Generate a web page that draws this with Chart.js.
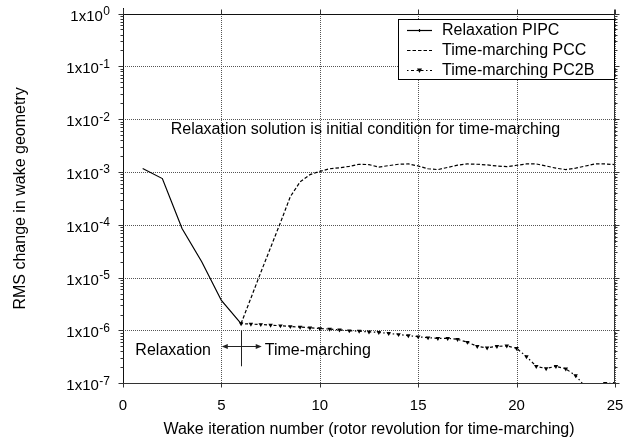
<!DOCTYPE html>
<html>
<head>
<meta charset="utf-8">
<script src="https://cdn.jsdelivr.net/npm/chart.js@4.4.0/dist/chart.umd.min.js"></script>
<style>
  html, body { margin: 0; padding: 0; background: #fff; }
  #wrap { width: 634px; height: 440px; position: relative; }
</style>
</head>
<body>
<div id="wrap"><canvas id="rmsChart"></canvas></div>
<script>
// axis ticks
const xTicks = [0, 5, 10, 15, 20, 25];
const yDecades = [0, -1, -2, -3, -4, -5, -6, -7];

// relaxation (free-wake) iterations
const pipcX = [1, 2, 3, 4, 5, 6];
const pipcY = [1.16e-3, 7.5e-4, 8.5e-5, 2.0e-5, 3.7e-6, 1.35e-6];

// time-marching, predictor-corrector central
const pccX = [6, 7, 8, 8.5, 9, 9.5,
  10, 10.5, 11, 11.5, 12, 12.5, 13, 13.5, 14, 14.5, 15, 15.5, 16, 16.5, 17, 17.5,
  18, 18.5, 19, 19.5, 20, 20.5, 21, 21.5, 22, 22.5, 23, 23.5, 24, 24.5, 25];
const pccY = [1.35e-6, 1.25e-5, 1.1e-4, 3.4e-4, 6.5e-4, 8.9e-4,
  1.03e-3, 1.15e-3, 1.2e-3, 1.28e-3, 1.4e-3, 1.38e-3, 1.24e-3, 1.32e-3, 1.4e-3, 1.42e-3,
  1.3e-3, 1.15e-3, 1.11e-3, 1.22e-3, 1.35e-3, 1.42e-3, 1.4e-3, 1.36e-3, 1.3e-3, 1.26e-3,
  1.34e-3, 1.42e-3, 1.42e-3, 1.3e-3, 1.18e-3, 1.11e-3, 1.18e-3, 1.3e-3, 1.42e-3, 1.42e-3, 1.38e-3];

// time-marching, second order backward
const pc2bX = [6, 6.5, 7, 7.5, 8, 8.5, 9, 9.5, 10, 10.5, 11, 11.5, 12, 12.5, 13, 13.5,
  14, 14.5, 15, 15.5, 16, 16.5, 17, 17.5, 18, 18.5, 19, 19.5, 20, 20.5, 21, 21.5,
  22, 22.5, 23, 23.5, 24, 24.5, 25];
const pc2bY = [1.35e-6, 1.32e-6, 1.3e-6, 1.26e-6, 1.23e-6, 1.19e-6, 1.16e-6, 1.12e-6,
  1.09e-6, 1.06e-6, 1.03e-6, 9.9e-7, 9.7e-7, 9.4e-7, 9.2e-7, 8.8e-7, 8.4e-7, 8.0e-7,
  7.6e-7, 7.3e-7, 7.1e-7, 7.1e-7, 6.8e-7, 6.0e-7, 5.0e-7, 4.7e-7, 5.0e-7, 5.1e-7,
  4.6e-7, 3.2e-7, 2.1e-7, 1.9e-7, 2.1e-7, 1.88e-7, 1.4e-7, 8.5e-8, 7e-8, 1.0e-7, 1.0e-7];

const seriesNames = ['Relaxation PIPC', 'Time-marching PCC', 'Time-marching PC2B'];

function toPoints(xs, ys) {
  return xs.map(function (v, i) { return { x: v, y: ys[i] }; });
}

const FONT = "'Liberation Sans', Arial, sans-serif";

// grid, frame, tick labels, titles, notes and legend
const framePlugin = {
  id: 'frame',
  beforeDatasetsDraw(chart) {
    const ctx = chart.ctx;
    const a = chart.chartArea;
    const x = chart.scales.x, y = chart.scales.y;
    const top = Math.round(a.top), bottom = Math.round(a.bottom);
    ctx.save();
    ctx.strokeStyle = '#555';
    ctx.lineWidth = 1;
    ctx.setLineDash([1, 1]);
    xTicks.forEach(function (v) {
      const px = Math.round(x.getPixelForValue(v)) + 0.5;
      ctx.beginPath(); ctx.moveTo(px, top); ctx.lineTo(px, bottom); ctx.stroke();
    });
    yDecades.forEach(function (e) {
      const py = Math.round(y.getPixelForValue(Math.pow(10, e))) + 0.5;
      ctx.beginPath(); ctx.moveTo(Math.round(a.left), py); ctx.lineTo(Math.round(a.right), py); ctx.stroke();
    });
    ctx.restore();
  },
  afterDraw(chart) {
    const ctx = chart.ctx;
    const a = chart.chartArea;
    const x = chart.scales.x, y = chart.scales.y;
    const L = Math.round(a.left) + 0.5, R = Math.round(a.right) - 0.5;
    const T = Math.round(a.top) + 0.5, B = Math.round(a.bottom) + 0.5;
    ctx.save();

    // frame
    ctx.lineWidth = 1;
    ctx.strokeStyle = '#111';
    ctx.beginPath();
    ctx.moveTo(L, 8); ctx.lineTo(L, B);
    ctx.moveTo(L, T); ctx.lineTo(R, T);
    ctx.stroke();
    ctx.strokeStyle = '#333';
    ctx.beginPath();
    ctx.moveTo(R, T - 5); ctx.lineTo(R, B);
    ctx.moveTo(L, B); ctx.lineTo(R + 1, B);
    ctx.stroke();

    // log ticks on left and right
    ctx.beginPath();
    yDecades.forEach(function (e) {
      const py = Math.round(y.getPixelForValue(Math.pow(10, e))) + 0.5;
      ctx.moveTo(L - 5, py); ctx.lineTo(L, py);
      ctx.moveTo(R, py); ctx.lineTo(R + 5, py);
      if (e < 0) {
        for (let m = 2; m <= 9; m++) {
          const pm = Math.round(y.getPixelForValue(m * Math.pow(10, e))) + 0.5;
          ctx.moveTo(L - 3, pm); ctx.lineTo(L, pm);
          ctx.moveTo(R, pm); ctx.lineTo(R + 3, pm);
        }
      }
    });
    xTicks.forEach(function (v) {
      const px = Math.round(x.getPixelForValue(v)) + 0.5;
      ctx.moveTo(px, B); ctx.lineTo(px, B + 4);
      ctx.moveTo(px, T - 5); ctx.lineTo(px, T);
    });
    ctx.stroke();

    // tick labels
    ctx.fillStyle = '#000';
    ctx.textBaseline = 'alphabetic';
    ctx.font = '15px ' + FONT;
    ctx.textAlign = 'center';
    xTicks.forEach(function (v) {
      ctx.fillText(String(v), x.getPixelForValue(v), 410);
    });
    yDecades.forEach(function (e) {
      const py = y.getPixelForValue(Math.pow(10, e));
      const exp = String(e);
      ctx.font = '12px ' + FONT;
      ctx.textAlign = 'right';
      const w = ctx.measureText(exp).width;
      ctx.fillText(exp, 110, py + 1.5);
      ctx.font = '15px ' + FONT;
      ctx.fillText('1x10', 110 - w - 0.5, py + 7);
    });

    // axis titles
    ctx.font = '16px ' + FONT;
    ctx.textAlign = 'center';
    ctx.fillText('Wake iteration number (rotor revolution for time-marching)', (a.left + a.right) / 2, 433.5);
    ctx.save();
    ctx.translate(24.5, (a.top + a.bottom) / 2);
    ctx.rotate(-Math.PI / 2);
    ctx.fillText('RMS change in wake geometry', 0, 0);
    ctx.restore();

    // notes inside the plot
    ctx.fillText('Relaxation solution is initial condition for time-marching',
      x.getPixelForValue(12.32), y.getPixelForValue(5.3e-3));
    ctx.textAlign = 'right';
    ctx.fillText('Relaxation', x.getPixelForValue(4.47), y.getPixelForValue(3.5e-7));
    ctx.textAlign = 'left';
    ctx.fillText('Time-marching', x.getPixelForValue(7.2), y.getPixelForValue(3.5e-7));

    // switch marker: vertical bar at iteration 6 and double arrow
    const sx = Math.round(x.getPixelForValue(6)) + 0.5;
    const ay = Math.round(y.getPixelForValue(5e-7)) + 0.5;
    const ax0 = x.getPixelForValue(5.02), ax1 = x.getPixelForValue(7.05);
    ctx.strokeStyle = '#222';
    ctx.beginPath();
    ctx.moveTo(sx, y.getPixelForValue(1e-6)); ctx.lineTo(sx, y.getPixelForValue(2.1e-7));
    ctx.moveTo(ax0 + 4, ay); ctx.lineTo(ax1 - 4, ay);
    ctx.stroke();
    ctx.fillStyle = '#222';
    ctx.beginPath();
    ctx.moveTo(ax0, ay); ctx.lineTo(ax0 + 6, ay - 2.5); ctx.lineTo(ax0 + 6, ay + 2.5); ctx.closePath();
    ctx.moveTo(ax1, ay); ctx.lineTo(ax1 - 6, ay - 2.5); ctx.lineTo(ax1 - 6, ay + 2.5); ctx.closePath();
    ctx.fill();

    // legend
    ctx.fillStyle = '#fff';
    ctx.strokeStyle = '#000';
    ctx.fillRect(398.5, 19.5, 216, 60);
    ctx.strokeRect(398.5, 19.5, 216, 60);
    chart.data.datasets.forEach(function (ds, i) {
      const ly = 30.5 + i * 20;
      ctx.save();
      ctx.strokeStyle = '#000';
      ctx.lineWidth = ds.borderWidth;
      ctx.setLineDash(ds.borderDash || []);
      ctx.beginPath(); ctx.moveTo(407, ly); ctx.lineTo(432, ly); ctx.stroke();
      ctx.setLineDash([]);
      if (i === 0) {
        ctx.beginPath(); ctx.moveTo(419.5, ly - 1.5); ctx.lineTo(419.5, ly + 1.5); ctx.stroke();
      }
      if (ds.pointRadius > 0) {
        ctx.fillStyle = '#000';
        ctx.beginPath();
        ctx.moveTo(417, ly - 2); ctx.lineTo(422, ly - 2); ctx.lineTo(419.5, ly + 2.5); ctx.closePath();
        ctx.fill();
      }
      ctx.restore();
      ctx.fillStyle = '#000';
      ctx.font = '16px ' + FONT;
      ctx.textAlign = 'left';
      ctx.fillText(ds.label, 442, 35 + i * 20);
    });

    ctx.restore();
  }
};

const data = {
  datasets: [{
    label: seriesNames[0],
    data: toPoints(pipcX, pipcY),
    borderColor: '#000',
    borderWidth: 1.2,
    pointRadius: 0
  }, {
    label: seriesNames[1],
    data: toPoints(pccX, pccY),
    borderColor: '#000',
    borderWidth: 1.2,
    borderDash: [3.5, 2],
    pointRadius: 0
  }, {
    label: seriesNames[2],
    data: toPoints(pc2bX, pc2bY),
    borderColor: '#000',
    borderWidth: 1.2,
    borderDash: [1.5, 2.5, 3, 2.5],
    pointStyle: 'triangle',
    rotation: 180,
    pointRadius: 2.6,
    pointBackgroundColor: '#000',
    pointBorderColor: '#000',
    pointBorderWidth: 0
  }]
};

const config = {
  type: 'line',
  data: data,
  options: {
    responsive: true,
    maintainAspectRatio: false,
    animation: false,
    devicePixelRatio: 1,
    layout: { padding: { left: 123, right: 19, top: 13.5, bottom: 56.7 } },
    scales: {
      x: { type: 'linear', min: 0, max: 25, display: false },
      y: { type: 'logarithmic', min: 1e-7, max: 1, display: false }
    },
    plugins: {
      legend: { display: false },
      tooltip: { enabled: false }
    }
  },
  plugins: [framePlugin]
};

const rmsChart = new Chart(document.getElementById('rmsChart'), config);
</script>
</body>
</html>
